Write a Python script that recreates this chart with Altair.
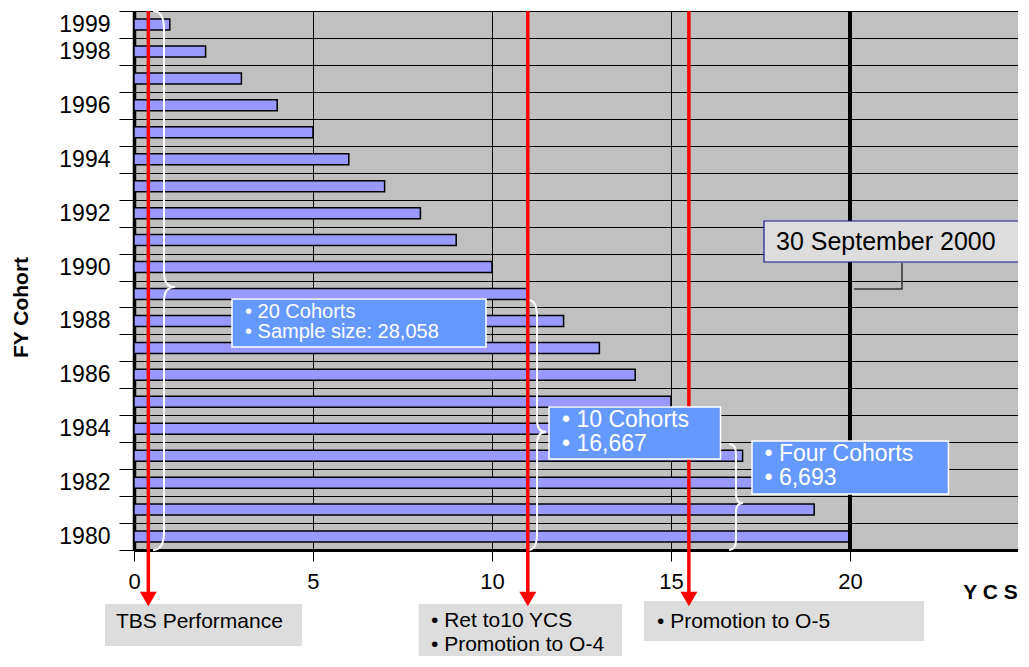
import altair as alt
import pandas as pd

# ---------------- data ----------------
cohorts = [1980, 1981, 1982, 1983, 1984, 1985, 1986, 1987, 1988, 1989,
           1990, 1991, 1992, 1993, 1994, 1995, 1996, 1997, 1998, 1999]
ycs = [20, 19, 18, 17, 16, 15, 14, 13, 12, 11,
       10, 9, 8, 7, 6, 5, 4, 3, 2, 1]
shown_years = ["1999", "1998", "1996", "1994", "1992", "1990",
               "1988", "1986", "1984", "1982", "1980"]
x_ticks = [0, 5, 10, 15, 20]
milestone_ycs = [0.4, 11, 15.5]
cutoff_ycs = [20]
tbs_text = ["TBS Performance"]
ret_text = ["• Ret to10 YCS", "• Promotion to O-4"]
o5_text = ["• Promotion to O-5"]
note20 = ["• 20 Cohorts", "• Sample size: 28,058"]
note10 = ["• 10 Cohorts", "• 16,667"]
note4 = ["• Four Cohorts", "• 6,693"]
cutoff_text = ["30 September 2000"]
x_title = "Y C S"
y_title = "FY Cohort"

# ---------------- layout ----------------
W, H = 884, 539
PXU = 35.8                 # pixels per YCS unit
XMAX = round(W / PXU, 3)
LEFT = 134                 # page x of plot's left edge
TOP = 11                   # page y of plot's top edge


def dx(page_x):
    return (page_x - LEFT) / PXU


def py(page_y):
    return page_y - TOP


FONT = "Liberation Sans"

xscale = alt.Scale(domain=[0, XMAX], nice=False, zero=False)
xaxis = alt.Axis(
    values=x_ticks, grid=True, gridColor="black", gridWidth=1, gridOpacity=1,
    domainColor="black", domainWidth=3, tickColor="black", tickWidth=1,
    tickSize=11, labelFontSize=22, labelFont=FONT, labelColor="black",
    labelPadding=10, labelFlush=False, labelOverlap=False,
    title=x_title, titleFont=FONT, titleFontSize=21, titleFontWeight="bold",
    titleColor="black", titleX=990 - LEFT, titleY=42, titleAlign="center",
    titleBaseline="middle", titleAngle=0,
)


def X(field="YCS"):
    return alt.X(field, type="quantitative", scale=xscale, axis=xaxis)


# bars
bars_df = pd.DataFrame({"FY": [str(c) for c in cohorts], "YCS": ycs})
order = [str(c) for c in sorted(cohorts, reverse=True)]
label_expr = ("indexof([" + ",".join("'%s'" % y for y in shown_years) +
              "], datum.label) >= 0 ? datum.label : ''")
yaxis = alt.Axis(
    tickBand="extent", grid=True, gridColor="black", gridWidth=1, gridOpacity=1,
    domainColor="black", domainWidth=3.5, tickColor="black", tickSize=15,
    tickWidth=1, labelExpr=label_expr, labelFont=FONT, labelFontSize=23,
    labelColor="black", labelPadding=9, labelOverlap=False,
    title=y_title, titleFont=FONT, titleFontSize=21, titleFontWeight="bold",
    titleColor="black", titleX=21 - LEFT, titleY=py(307), titleAngle=270,
    titleAlign="center", titleBaseline="middle",
)
bars = alt.Chart(bars_df).mark_bar(
    size=11, fill="#9999FF", stroke="black", strokeWidth=1.5
).encode(
    x=X(),
    y=alt.Y("FY:O", sort=order,
            scale=alt.Scale(paddingInner=0, paddingOuter=0), axis=yaxis),
)

layers = [bars]

# cutoff line at 20 YCS
layers.append(
    alt.Chart(pd.DataFrame({"YCS": cutoff_ycs})).mark_rule(
        color="black", strokeWidth=4
    ).encode(x=X(), y=alt.value(0), y2=alt.value(H))
)


def brace_path(h, a, c_end, c_tip, tip_off):
    s = h / 2.0
    A, C, K, T = a / s, c_end / s, c_tip / s, tip_off / s
    f = lambda v: "%.4f" % v
    return ("M %s -1 Q 0 -1 0 %s L 0 %s Q 0 %s %s %s Q 0 %s 0 %s L 0 %s Q 0 1 %s 1"
            % (f(-A), f(-1 + C), f(T - K), f(T), f(A), f(T), f(T), f(T + K),
               f(1 - C), f(-A)))


# (spine page x, top, bottom, tip page y, half depth, end curl, tip curl)
braces = [(164, 11, 550, 287, 11, 18, 14),
          (537, 300, 550, 432, 9, 16, 12),
          (736, 444, 550, 503, 7, 10, 9)]
for sx, t, b, tip, a, ce, ct in braces:
    h = b - t
    c = (t + b) / 2.0
    layers.append(
        alt.Chart(pd.DataFrame({"YCS": [dx(sx)]})).mark_point(
            shape=brace_path(h, a, ce, ct, tip - c), size=h * h, filled=False,
            color="white", strokeWidth=2, opacity=1
        ).encode(x=X(), y=alt.value(py(c)))
    )

# red milestone lines
ms_df = pd.DataFrame({"YCS": milestone_ycs})
layers.append(
    alt.Chart(ms_df).mark_rule(color="#FF0000", strokeWidth=3.5).encode(
        x=X(), y=alt.value(0), y2=alt.value(py(594)))
)


def rect(x0, x1, y0, y1, fill, stroke=None, sw=0):
    kw = dict(fill=fill)
    if stroke:
        kw.update(stroke=stroke, strokeWidth=sw)
    else:
        kw.update(strokeWidth=0)
    return alt.Chart(pd.DataFrame({"YCS": [x0], "YCS2": [x1]})).mark_rect(
        **kw).encode(x=X(), x2="YCS2", y=alt.value(y0), y2=alt.value(y1))


def text(s, x, y, size, color="black", font=FONT, weight="normal"):
    return alt.Chart(pd.DataFrame({"YCS": [x], "t": [s]})).mark_text(
        align="left", baseline="middle", fontSize=size, font=font,
        fontWeight=weight, color=color
    ).encode(x=X(), y=alt.value(y), text="t:N")


# bottom grey label boxes
layers.append(rect(dx(105), dx(302), py(604), py(646), "#DDDDDD"))
layers.append(rect(dx(418.6), dx(622), py(604), py(670), "#DDDDDD"))
layers.append(rect(dx(644), dx(924), py(601), py(641), "#DDDDDD"))
layers.append(text(tbs_text[0], dx(116), py(622), 21))
layers.append(text(ret_text[0], dx(431), py(621), 21))
layers.append(text(ret_text[1], dx(431), py(645), 21))
layers.append(text(o5_text[0], dx(657), py(622), 21))

# arrowheads
layers.append(
    alt.Chart(ms_df).mark_point(
        shape="triangle-down", filled=True, color="#FF0000", size=289, opacity=1
    ).encode(x=X(), y=alt.value(py(599)))
)

# blue cohort notes
BLUE = "#6699FF"
layers.append(rect(dx(232), dx(486), py(299), py(347), BLUE, "white", 1.5))
layers.append(text(note20[0], dx(245), py(312), 20, color="white"))
layers.append(text(note20[1], dx(245), py(332), 20, color="white"))
layers.append(rect(dx(549), dx(720.5), py(407), py(459), BLUE, "white", 1.5))
layers.append(text(note10[0], dx(562), py(420), 23, color="white"))
layers.append(text(note10[1], dx(562), py(444), 23, color="white"))
layers.append(rect(dx(752), dx(948.5), py(441), py(494), BLUE, "white", 1.5))
layers.append(text(note4[0], dx(764.5), py(454), 23, color="white"))
layers.append(text(note4[1], dx(764.5), py(478), 23, color="white"))

# 30 September 2000 callout
layers.append(rect(dx(764), dx(1040), py(221), py(262), "#DDDDDD", "#1A1A8C", 1.2))
layers.append(text(cutoff_text[0], dx(776), py(242), 25))
layers.append(
    alt.Chart(pd.DataFrame({"YCS": [dx(902)]})).mark_rule(
        color="#333333", strokeWidth=1.5
    ).encode(x=X(), y=alt.value(py(263)), y2=alt.value(py(289)))
)
layers.append(
    alt.Chart(pd.DataFrame({"YCS": [dx(854)], "YCS2": [dx(902.7)]})).mark_rule(
        color="#333333", strokeWidth=1.5
    ).encode(x=X(), x2="YCS2", y=alt.value(py(289)))
)

chart = alt.layer(*layers).properties(
    width=W, height=H,
    autosize=alt.AutoSizeParams(type="none"),
    padding={"left": 126, "top": 3, "right": 0, "bottom": 106},
).configure_view(fill="#C0C0C0", stroke="black", strokeWidth=1)

chart.save("out.html", embed_options={"renderer": "svg", "actions": False})
